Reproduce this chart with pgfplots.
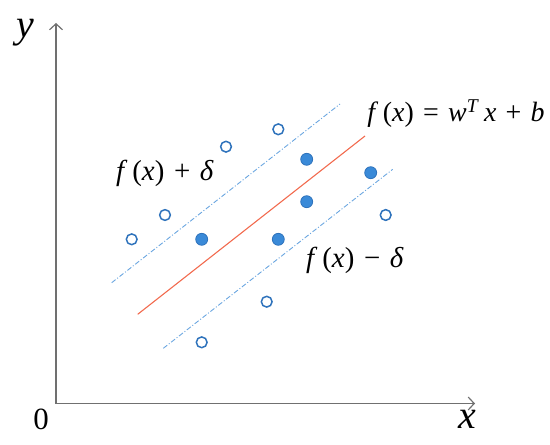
\documentclass[border=0pt]{standalone}
\usepackage{fontspec}
\setmainfont{Liberation Serif}
\usepackage{pgfplots}
\pgfplotsset{compat=1.18}
\usetikzlibrary{arrows.meta}
\definecolor{axgray}{HTML}{707070}
\definecolor{ptblue}{HTML}{2F73BC}
\definecolor{ptfill}{HTML}{3A8AD8}
\definecolor{linered}{HTML}{F26A4E}
\definecolor{dashblue}{HTML}{6AA6E0}
\begin{document}
\begin{tikzpicture}
\begin{axis}[
  scale only axis, width=550bp, height=444bp,
  xmin=0, xmax=550, ymin=0, ymax=444,
  hide axis, clip=false,
]
\coordinate (bl) at (axis cs:0,0);
\coordinate (tr) at (axis cs:550,444);
% axes
\addplot[axgray, line width=1.3pt, -{Straight Barb[length=6pt,width=13pt,line width=1.2pt]}] coordinates {(56,40.5) (475,40.5)};
\addplot[axgray, line width=1.3pt, -{Straight Barb[length=6pt,width=13pt,line width=1.2pt]}] coordinates {(56,40.5) (56,421)};
% regression line and bounds
\addplot[linered, line width=1.1pt] coordinates {(137.7,129.7) (365,308)};
\addplot[dashblue, line width=0.9pt, dash pattern=on 5pt off 2pt on 1pt off 2pt] coordinates {(111.7,161.3) (340,340)};
\addplot[dashblue, line width=0.9pt, dash pattern=on 5pt off 2pt on 1pt off 2pt] coordinates {(163.3,95.7) (392.7,274.7)};
% open points
\addplot[only marks, mark=*, mark size=5.4pt, mark options={draw=ptblue, fill=white, line width=1.5pt}] coordinates {
(131.7,204.7) (165,229) (226,297.3) (278.3,314.7) (385.7,229) (266.7,142.3) (201.7,101.7)};
% filled points
\addplot[only marks, mark=*, mark size=6pt, mark options={draw=ptblue, fill=ptfill, line width=0.8pt}] coordinates {
(201.7,204.7) (306.7,284.7) (306.7,242.3) (278.3,204.7) (370.7,271.3)};
% labels
\node[inner sep=0pt, font=\fontsize{29}{32}\selectfont] at (axis cs:165,271) {\textit{f}\,(\textit{x})\,\,+\,\,\textit{δ}};
\node[inner sep=0pt, font=\fontsize{29}{32}\selectfont] at (axis cs:355,184) {\textit{f}\,(\textit{x})\,\,−\,\,\textit{δ}};
\node[inner sep=0pt, font=\fontsize{28}{32}\selectfont] at (axis cs:456,330) {\textit{f}\,(\textit{x})\,\,=\,\,\textit{w}\textsuperscript{\textit{T}}\,\textit{x}\,\,+\,\,\textit{b}};
\node[inner sep=0pt, font=\fontsize{40}{44}\selectfont] at (axis cs:25,411) {\textit{y}};
\node[inner sep=0pt, font=\fontsize{40}{44}\selectfont] at (axis cs:467,25) {\textit{x}};
\node[inner sep=0pt, font=\fontsize{31}{34}\selectfont] at (axis cs:41,25) {0};
\end{axis}
\pgfresetboundingbox
\path (bl) rectangle (tr);
\end{tikzpicture}
\end{document}
